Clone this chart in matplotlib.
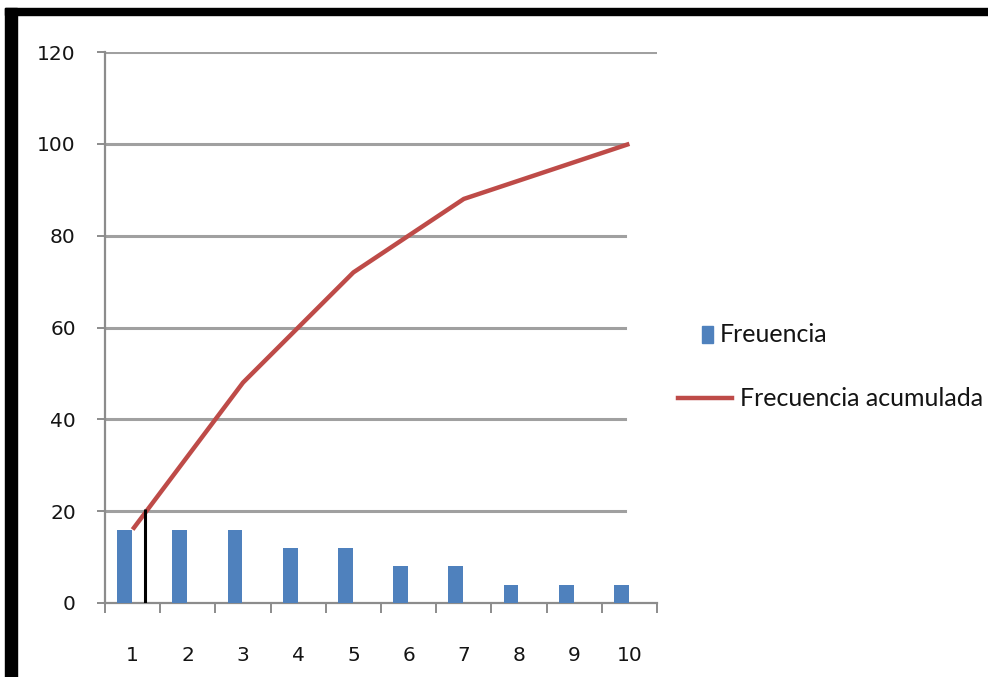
import matplotlib
matplotlib.use("Agg")
import matplotlib.pyplot as plt
from matplotlib.patches import Rectangle
from matplotlib.lines import Line2D
import numpy as np

# Chart data
categories = [1, 2, 3, 4, 5, 6, 7, 8, 9, 10]
frecuencia = [16, 16, 16, 12, 12, 8, 8, 4, 4, 4]
frecuencia_acumulada = [16, 32, 48, 60, 72, 80, 88, 92, 96, 100]
y_ticks = [0, 20, 40, 60, 80, 100, 120]
marker_x = 1.22      # hand-drawn black marker line
marker_top = 20.5

bar_color = "#4F81BD"
line_color = "#BE4B48"
grid_color = "#A0A0A0"
axis_color = "#8C8C8C"
text_color = "#141414"

fig = plt.figure(figsize=(9.88, 6.77), dpi=100)
ax = fig.add_axes([105 / 988, 1 - 603 / 677, 552 / 988, 551 / 677])

x = np.array(categories, dtype=float)
ax.bar(x - 0.145, frecuencia, width=0.27, color=bar_color, zorder=3)
ax.plot(x, frecuencia_acumulada, color=line_color, lw=3.2, zorder=4,
        solid_capstyle="butt")
ax.vlines(marker_x, 0, marker_top, color="black", lw=2.2, zorder=5)

# gridlines (the lower ones stop short, as in the original)
for yv in y_ticks[1:]:
    xmax = 1.0 if yv == 120 else 0.942
    ax.axhline(yv, xmin=0, xmax=xmax, color=grid_color, lw=2.2, zorder=1)

ax.set_xlim(0.5, 10.5)
ax.set_ylim(0, 120)

for s in ["top", "right"]:
    ax.spines[s].set_visible(False)
for s in ["left", "bottom"]:
    ax.spines[s].set_color(axis_color)
    ax.spines[s].set_linewidth(1.6)

ax.set_yticks(y_ticks)
ax.set_yticklabels([str(v) for v in y_ticks])
ax.tick_params(axis="y", direction="out", length=6, width=1.4, color=axis_color,
               pad=15, labelsize=14.5, labelcolor=text_color)

ax.set_xticks(categories)
ax.set_xticklabels([str(c) for c in categories])
ax.set_xticks(np.arange(0.5, 11, 1.0), minor=True)
ax.tick_params(axis="x", which="major", length=0, pad=31, labelsize=14.5,
               labelcolor=text_color)
ax.tick_params(axis="x", which="minor", direction="out", length=7, width=1.4,
               color=axis_color)

# legend, drawn by hand to the right of the plot
fig.add_artist(Rectangle((702 / 988, 1 - 343 / 677), 11 / 988, 17 / 677,
                         transform=fig.transFigure, color=bar_color))
fig.text(720 / 988, 1 - 335 / 677, "Freuencia", family="Lato", fontsize=18,
         va="center", ha="left", color=text_color)
fig.add_artist(Line2D([678 / 988, 732 / 988], [1 - 398 / 677, 1 - 398 / 677],
                      transform=fig.transFigure, color=line_color, lw=3.2))
fig.text(740 / 988, 1 - 398 / 677, "Frecuencia acumulada", family="Lato",
         fontsize=18, va="center", ha="left", color=text_color)

# black frame around the screenshot (top and left edges)
fig.add_artist(Rectangle((5 / 988, 1 - 15 / 677), 983 / 988, 7 / 677,
                         transform=fig.transFigure, color="black"))
fig.add_artist(Rectangle((5 / 988, 0), 12 / 988, 1 - 8 / 677,
                         transform=fig.transFigure, color="black"))

fig.savefig("out.png", dpi=100)
